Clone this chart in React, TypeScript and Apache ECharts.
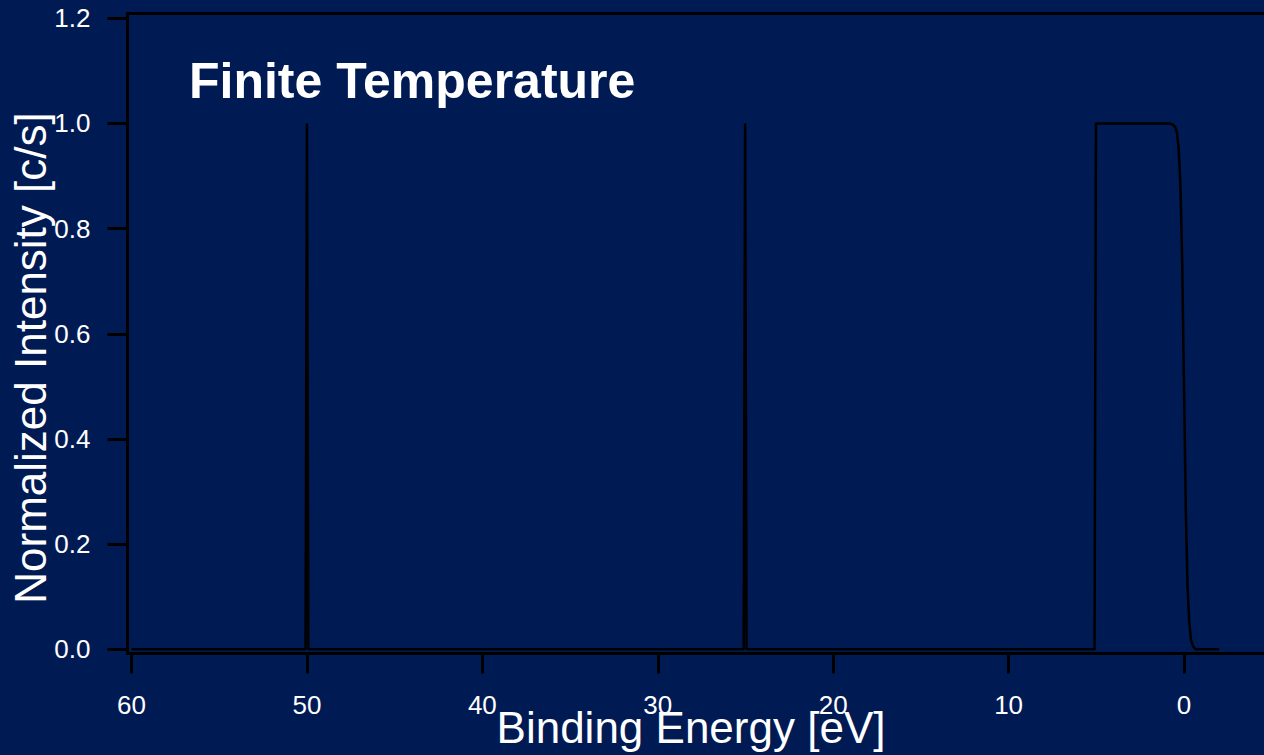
import React, { useEffect, useRef } from "react";
import * as echarts from "echarts";

// Spectrum: two narrow core-level lines and a valence band cut off by a Fermi edge
const bindingEnergy = [
  60, 50.08, 50.0, 49.92, 25.1, 25.02, 24.94, 5.1, 5.02, 0.8, 0.6, 0.5, 0.4,
  0.3, 0.2, 0.1, 0.0, -0.1, -0.2, -0.3, -0.4, -0.5, -0.6, -0.7, -2,
];
const intensity = [
  0, 0, 1, 0, 0, 1, 0, 0, 1, 1, 0.997, 0.993, 0.982, 0.95, 0.88, 0.73, 0.5,
  0.27, 0.12, 0.05, 0.018, 0.007, 0.002, 0, 0,
];

const xTicks = [60, 50, 40, 30, 20, 10, 0];
const yTicks = [0, 0.2, 0.4, 0.6, 0.8, 1.0, 1.2];

const titleText = "Finite Temperature";
const xAxisTitle = "Binding Energy [eV]";
const yAxisTitle = "Normalized Intensity [c/s]";

const FONT = "'Liberation Sans', Arial, Helvetica, sans-serif";
const BG = "#001a54";

export default function App() {
  const ref = useRef<HTMLDivElement>(null);

  useEffect(() => {
    if (!ref.current) return;
    const chart = echarts.init(ref.current, undefined, { renderer: "svg" });
    const points = bindingEnergy.map((e, i) => [e, intensity[i]]);
    const axisLine = { show: true, onZero: false, lineStyle: { color: "#000", width: 3 } };

    chart.setOption({
      animation: false,
      backgroundColor: BG,
      grid: { left: 127.5, right: 0, top: 13.5, bottom: 101.5, containLabel: false },
      xAxis: [
        {
          type: "value",
          position: "bottom",
          inverse: true,
          min: -4.56,
          max: 60.23,
          axisLine,
          axisTick: {
            show: true,
            length: 20,
            lineStyle: { color: "#000", width: 3 },
            customValues: xTicks,
          },
          axisLabel: {
            customValues: xTicks,
            color: "#fff",
            fontSize: 26,
            fontFamily: FONT,
            margin: 38,
            formatter: (v: number) => String(Math.round(v)),
          },
          splitLine: { show: false },
        },
        {
          type: "value",
          position: "top",
          inverse: true,
          min: -4.56,
          max: 60.23,
          axisLine,
          axisTick: { show: false },
          axisLabel: { show: false },
          splitLine: { show: false },
        },
      ],
      yAxis: {
        type: "value",
        min: -0.008,
        max: 1.209,
        axisLine,
        axisTick: {
          show: true,
          length: 20,
          lineStyle: { color: "#000", width: 3 },
          customValues: yTicks,
        },
        axisLabel: {
          customValues: yTicks,
          color: "#fff",
          fontSize: 26,
          fontFamily: FONT,
          margin: 37,
          formatter: (v: number) => v.toFixed(1),
        },
        splitLine: { show: false },
      },
      series: [
        {
          type: "line",
          xAxisIndex: 0,
          data: points,
          showSymbol: false,
          lineStyle: { color: "#000", width: 2.5 },
          clip: true,
        },
      ],
      graphic: [
        {
          type: "text",
          left: 189,
          top: 56,
          style: {
            text: titleText,
            fill: "#fff",
            fontSize: 50,
            fontWeight: "bold",
            fontFamily: FONT,
          },
        },
        {
          type: "text",
          x: 691,
          y: 727,
          style: {
            text: xAxisTitle,
            fill: "#fff",
            fontSize: 44,
            fontFamily: FONT,
            align: "center",
            verticalAlign: "middle",
          },
        },
        {
          type: "text",
          x: 30.5,
          y: 358,
          rotation: Math.PI / 2,
          style: {
            text: yAxisTitle,
            fill: "#fff",
            fontSize: 44,
            fontFamily: FONT,
            align: "center",
            verticalAlign: "middle",
          },
        },
      ],
    });

    return () => chart.dispose();
  }, []);

  return (
    <div
      ref={ref}
      style={{ position: "absolute", left: 0, top: 0, width: 1264, height: 755 }}
    />
  );
}
